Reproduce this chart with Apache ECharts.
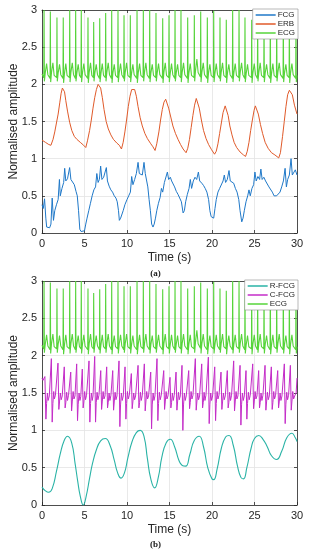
<!DOCTYPE html>
<html>
<head>
<meta charset="utf-8">
<script src="https://cdn.jsdelivr.net/npm/echarts@6/dist/echarts.min.js"></script>
<style>html,body{margin:0;padding:0;background:#fff;}#c{width:311px;height:550px;}</style>
</head>
<body>
<div id="c"></div>
<script>
// ---- data (time in s, normalised amplitude) ----
const ecgData = [
[0,2.14],
[0.21,2.09],[0.24,3.0],[0.28,2.04],[0.38,2.15],[0.54,2.28],[0.69,2.13],
[0.95,2.08],[0.98,2.98],[1.02,2.03],[1.12,2.16],[1.28,2.29],[1.43,2.12],
[1.73,2.09],[1.76,2.9],[1.8,2.04],[1.9,2.15],[2.06,2.27],[2.21,2.13],
[2.47,2.08],[2.5,2.9],[2.54,2.02],[2.64,2.14],[2.8,2.28],[2.95,2.12],
[3.23,2.09],[3.26,3.0],[3.3,2.03],[3.4,2.16],[3.56,2.29],[3.71,2.13],
[3.93,2.08],[3.96,3.0],[4.0,2.04],[4.1,2.15],[4.26,2.27],[4.41,2.12],
[4.59,2.09],[4.62,3.0],[4.66,2.03],[4.76,2.15],[4.92,2.28],[5.07,2.13],
[5.38,2.08],[5.41,2.9],[5.45,2.02],[5.55,2.16],[5.71,2.29],[5.86,2.12],
[6.05,2.09],[6.08,2.84],[6.12,2.04],[6.22,2.15],[6.38,2.27],[6.53,2.13],
[6.76,2.08],[6.79,2.89],[6.83,2.03],[6.93,2.14],[7.09,2.28],[7.24,2.12],
[7.46,2.09],[7.49,2.96],[7.53,2.04],[7.63,2.16],[7.79,2.29],[7.94,2.13],
[8.17,2.08],[8.2,3.0],[8.24,2.02],[8.34,2.15],[8.5,2.27],[8.65,2.12],
[8.91,2.09],[8.94,3.0],[8.98,2.03],[9.08,2.15],[9.24,2.28],[9.39,2.13],
[9.62,2.08],[9.65,2.93],[9.69,2.04],[9.79,2.16],[9.95,2.29],[10.1,2.12],
[10.36,2.09],[10.39,2.93],[10.43,2.03],[10.53,2.14],[10.69,2.27],[10.84,2.13],
[11.15,2.08],[11.18,3.0],[11.22,2.02],[11.32,2.15],[11.48,2.28],[11.63,2.12],
[11.89,2.09],[11.92,3.0],[11.96,2.04],[12.06,2.16],[12.22,2.29],[12.37,2.13],
[12.64,2.08],[12.67,3.0],[12.71,2.03],[12.81,2.15],[12.97,2.27],[13.12,2.12],
[13.38,2.09],[13.41,2.96],[13.45,2.04],[13.55,2.15],[13.71,2.28],[13.86,2.13],
[14.17,2.08],[14.2,2.89],[14.24,2.02],[14.34,2.16],[14.5,2.29],[14.65,2.12],
[14.91,2.09],[14.94,2.93],[14.98,2.03],[15.08,2.14],[15.24,2.28],[15.39,2.13],
[15.62,2.08],[15.65,3.0],[15.69,2.04],[15.79,2.15],[15.95,2.27],[16.1,2.12],
[16.32,2.09],[16.35,3.0],[16.39,2.03],[16.49,2.16],[16.65,2.29],[16.8,2.13],
[17.11,2.08],[17.14,2.9],[17.18,2.02],[17.28,2.15],[17.44,2.28],[17.59,2.12],
[17.89,2.09],[17.92,2.93],[17.96,2.04],[18.06,2.18],[18.22,2.34],[18.37,2.16],
[18.64,2.1],[18.67,2.98],[18.71,2.03],[18.81,2.16],[18.97,2.29],[19.12,2.13],
[19.42,2.08],[19.45,2.9],[19.49,2.02],[19.59,2.15],[19.75,2.27],[19.9,2.12],
[20.17,2.09],[20.2,2.99],[20.24,2.03],[20.34,2.14],[20.5,2.28],[20.65,2.13],
[20.91,2.08],[20.94,2.9],[20.98,2.04],[21.08,2.16],[21.24,2.29],[21.39,2.12],
[21.65,2.09],[21.68,2.87],[21.72,2.02],[21.82,2.15],[21.98,2.27],[22.13,2.13],
[22.4,2.08],[22.43,3.0],[22.47,2.03],[22.57,2.15],[22.73,2.28],[22.88,2.12],
[23.15,2.09],[23.18,3.0],[23.22,2.04],[23.32,2.16],[23.48,2.29],[23.63,2.13],
[23.85,2.08],[23.88,2.9],[23.92,2.03],[24.02,2.14],[24.18,2.27],[24.33,2.12],
[24.64,2.09],[24.67,2.87],[24.71,2.02],[24.81,2.15],[24.97,2.28],[25.12,2.13],
[25.34,2.08],[25.37,2.95],[25.41,2.04],[25.51,2.16],[25.67,2.29],[25.82,2.12],
[26.09,2.09],[26.12,2.9],[26.16,2.03],[26.26,2.15],[26.42,2.27],[26.57,2.13],
[26.83,2.08],[26.86,2.97],[26.9,2.02],[27.0,2.14],[27.16,2.28],[27.31,2.12],
[27.58,2.09],[27.61,2.92],[27.65,2.04],[27.75,2.16],[27.91,2.29],[28.06,2.13],
[28.36,2.08],[28.39,2.95],[28.43,2.03],[28.53,2.15],[28.69,2.27],[28.84,2.12],
[29.07,2.09],[29.1,2.9],[29.14,2.02],[29.24,2.15],[29.4,2.28],[29.55,2.13],
[29.85,2.08],[29.88,2.96],[29.92,2.03],[30,2.12]
];

const fcgData = [
[0,0.38],[0.15,0.33],[0.3,0.46],[0.45,0.2],[0.55,0.08],[0.7,0.06],[0.9,0.07],[1.05,0.12],[1.2,0.47],[1.35,0.17],
[1.5,0.3],[1.7,0.38],[1.9,0.45],[2.05,0.72],[2.15,0.5],[2.35,0.6],[2.55,0.68],[2.67,0.87],[2.8,0.7],[3.0,0.73],
[3.15,0.75],[3.25,0.88],[3.4,0.72],[3.6,0.73],[3.8,0.65],[4.0,0.56],[4.15,0.5],[4.3,0.3],[4.45,0.05],[4.6,0.02],
[4.8,0.01],[5.0,0.03],[5.15,0.12],[5.3,0.2],[5.5,0.3],[5.7,0.4],[5.9,0.5],[6.1,0.58],[6.3,0.62],[6.45,0.8],
[6.6,0.68],[6.75,0.72],[6.9,0.9],[7.05,0.72],[7.25,0.75],[7.4,0.73],[7.57,0.88],[7.7,0.7],[7.9,0.63],[8.1,0.58],
[8.3,0.55],[8.5,0.5],[8.7,0.47],[8.85,0.42],[9.0,0.3],[9.1,0.17],[9.25,0.2],[9.4,0.22],[9.55,0.3],[9.75,0.38],
[10.0,0.45],[10.2,0.5],[10.4,0.55],[10.55,0.76],[10.7,0.65],[10.9,0.72],[11.1,0.8],[11.3,0.95],[11.45,0.8],[11.6,0.82],
[11.8,0.78],[12.0,0.95],[12.15,0.8],[12.3,0.78],[12.45,0.62],[12.6,0.45],[12.75,0.3],[12.9,0.12],[13.06,0.08],[13.2,0.12],
[13.35,0.2],[13.5,0.3],[13.7,0.4],[13.9,0.48],[14.05,0.6],[14.2,0.55],[14.4,0.68],[14.55,0.7],[14.75,0.82],[14.9,0.72],
[15.1,0.75],[15.25,0.7],[15.45,0.72],[15.6,0.62],[15.8,0.56],[16.0,0.52],[16.2,0.5],[16.4,0.42],[16.6,0.27],[16.75,0.3],
[16.9,0.42],[17.1,0.52],[17.3,0.6],[17.45,0.72],[17.6,0.6],[17.8,0.7],[18.0,0.75],[18.2,0.72],[18.4,0.82],[18.55,0.7],
[18.8,0.67],[19.0,0.64],[19.2,0.6],[19.4,0.55],[19.6,0.45],[19.75,0.3],[19.9,0.22],[20.05,0.24],[20.2,0.2],[20.35,0.33],
[20.5,0.45],[20.7,0.55],[20.9,0.6],[21.1,0.62],[21.3,0.7],[21.45,0.78],[21.6,0.68],[21.8,0.72],[22.0,0.84],[22.15,0.7],
[22.35,0.68],[22.55,0.67],[22.75,0.6],[22.95,0.55],[23.15,0.45],[23.3,0.3],[23.5,0.15],[23.65,0.2],[23.8,0.3],[24.0,0.42],
[24.2,0.5],[24.35,0.58],[24.5,0.5],[24.7,0.6],[24.9,0.65],[25.05,0.82],[25.2,0.7],[25.4,0.76],[25.6,0.72],[25.75,0.86],
[25.9,0.72],[26.1,0.75],[26.3,0.7],[26.5,0.68],[26.7,0.62],[26.9,0.6],[27.1,0.55],[27.3,0.5],[27.45,0.48],[27.6,0.5],
[27.8,0.52],[28.0,0.55],[28.2,0.62],[28.4,0.7],[28.6,0.87],[28.75,0.62],[28.9,0.72],[29.1,0.78],[29.3,1.0],[29.45,0.78],
[29.6,0.8],[29.8,0.85],[30,0.78]
];

const erbData = [
[0,1.25],[0.4,1.22],[0.8,1.19],[1.05,1.18],[1.3,1.26],[1.5,1.36],[1.7,1.48],[1.9,1.6],[2.1,1.76],[2.25,1.88],
[2.4,1.95],[2.5,1.95],[2.65,1.9],[2.8,1.78],[3.0,1.64],[3.25,1.49],[3.5,1.38],[3.8,1.3],[4.1,1.26],[4.5,1.22],
[4.9,1.18],[5.15,1.15],[5.35,1.24],[5.6,1.38],[5.8,1.52],[6.0,1.68],[6.2,1.82],[6.4,1.93],[6.6,2.0],[6.75,2.0],
[6.9,1.95],[7.1,1.82],[7.3,1.66],[7.55,1.5],[7.8,1.4],[8.1,1.32],[8.4,1.26],[8.8,1.21],[9.1,1.18],[9.35,1.13],
[9.55,1.22],[9.75,1.36],[9.95,1.52],[10.15,1.7],[10.35,1.84],[10.55,1.93],[10.75,1.95],[10.9,1.93],[11.1,1.84],[11.3,1.7],
[11.55,1.55],[11.8,1.44],[12.1,1.34],[12.4,1.27],[12.8,1.2],[13.05,1.16],[13.3,1.11],[13.5,1.2],[13.75,1.36],[13.95,1.52],
[14.15,1.66],[14.35,1.76],[14.55,1.8],[14.7,1.78],[14.9,1.68],[15.15,1.56],[15.4,1.44],[15.7,1.34],[16.0,1.26],[16.3,1.19],
[16.6,1.13],[16.95,1.08],[17.15,1.14],[17.35,1.26],[17.55,1.42],[17.75,1.58],[17.95,1.72],[18.15,1.81],[18.3,1.79],[18.5,1.68],
[18.75,1.52],[19.0,1.38],[19.3,1.27],[19.6,1.19],[19.95,1.12],[20.3,1.06],[20.5,1.1],[20.7,1.2],[20.9,1.34],[21.1,1.48],
[21.3,1.62],[21.55,1.71],[21.7,1.69],[21.9,1.58],[22.1,1.44],[22.35,1.32],[22.6,1.22],[22.9,1.15],[23.3,1.09],[23.7,1.05],
[23.95,1.03],[24.15,1.1],[24.35,1.22],[24.55,1.38],[24.75,1.52],[24.95,1.65],[25.1,1.71],[25.25,1.7],[25.45,1.6],[25.7,1.46],
[25.95,1.34],[26.25,1.22],[26.6,1.14],[27.0,1.08],[27.4,1.05],[27.85,1.01],[28.05,1.08],[28.3,1.3],[28.5,1.5],[28.7,1.7],
[28.9,1.86],[29.1,1.92],[29.25,1.93],[29.45,1.86],[29.7,1.72],[30,1.6]
];

const rfcgData = [
[0,0.24],[0.4,0.19],[0.78,0.17],[1.2,0.22],[1.7,0.45],[2.16,0.69],[2.6,0.86],[3.0,0.92],[3.5,0.83],[3.9,0.55],
[4.2,0.32],[4.5,0.12],[4.85,0.0],[5.2,0.12],[5.6,0.36],[5.95,0.56],[6.4,0.74],[6.9,0.86],[7.45,0.89],[8.0,0.8],
[8.5,0.6],[8.9,0.43],[9.3,0.36],[9.7,0.43],[10.1,0.63],[10.6,0.85],[11.1,0.97],[11.55,1.0],[12.0,0.92],[12.4,0.62],
[12.8,0.35],[13.25,0.23],[13.7,0.38],[14.1,0.64],[14.6,0.83],[15.1,0.88],[15.6,0.78],[16.1,0.6],[16.5,0.53],[16.9,0.52],
[17.4,0.68],[17.9,0.86],[18.5,0.92],[19.0,0.78],[19.5,0.5],[20.0,0.35],[20.2,0.34],[20.6,0.48],[21.1,0.76],[21.6,0.91],
[22.0,0.93],[22.5,0.8],[23.0,0.52],[23.4,0.37],[23.7,0.35],[24.1,0.5],[24.6,0.76],[25.0,0.89],[25.5,0.93],[26.0,0.88],
[26.5,0.78],[27.0,0.66],[27.6,0.61],[28.2,0.72],[28.8,0.9],[29.4,0.96],[29.8,0.9],[30,0.85]
];

const cfcgData = [
[0,1.7],[0.12,1.67],[0.34,1.72],[0.46,1.15],[0.54,1.36],[0.64,1.5],[0.72,1.4],[0.86,1.46],
[1.1,1.96],[1.2,1.11],[1.28,1.36],[1.38,1.52],[1.45,1.42],[1.58,1.47],
[1.88,1.9],[1.98,1.28],[2.06,1.38],[2.16,1.5],[2.26,1.41],[2.38,1.46],
[2.62,1.85],[2.72,1.3],[2.8,1.37],[2.9,1.51],[3.0,1.4],[3.12,1.47],
[3.38,1.78],[3.48,1.26],[3.56,1.38],[3.66,1.52],[3.76,1.42],[3.88,1.46],
[4.08,1.89],[4.18,1.13],[4.26,1.35],[4.36,1.5],[4.46,1.4],[4.56,1.45],
[4.74,1.82],[4.84,1.3],[4.92,1.38],[5.02,1.52],[5.12,1.41],[5.24,1.47],
[5.53,1.93],[5.63,1.11],[5.71,1.36],[5.81,1.5],[5.91,1.4],[6.0,1.46],
[6.2,1.99],[6.3,1.11],[6.38,1.37],[6.48,1.51],[6.58,1.41],[6.7,1.47],
[6.91,1.8],[7.01,1.28],[7.09,1.38],[7.19,1.52],[7.29,1.42],[7.41,1.46],
[7.61,1.85],[7.71,1.3],[7.79,1.37],[7.89,1.5],[7.99,1.4],[8.11,1.47],
[8.32,1.8],[8.42,1.27],[8.5,1.38],[8.6,1.51],[8.7,1.41],[8.82,1.46],
[9.06,1.93],[9.16,1.05],[9.24,1.34],[9.34,1.5],[9.44,1.4],[9.56,1.46],
[9.77,1.85],[9.87,1.15],[9.95,1.36],[10.05,1.52],[10.15,1.42],[10.27,1.47],
[10.51,1.76],[10.61,1.29],[10.69,1.38],[10.79,1.5],[10.89,1.41],[11.01,1.46],
[11.3,1.87],[11.4,1.3],[11.48,1.37],[11.58,1.51],[11.68,1.4],[11.8,1.47],
[12.04,1.89],[12.14,1.26],[12.22,1.38],[12.32,1.52],[12.42,1.42],[12.54,1.46],
[12.79,1.78],[12.89,1.02],[12.97,1.34],[13.07,1.5],[13.17,1.4],[13.29,1.46],
[13.53,1.96],[13.63,1.13],[13.71,1.36],[13.81,1.51],[13.91,1.41],[14.03,1.47],
[14.32,1.8],[14.42,1.28],[14.5,1.38],[14.6,1.52],[14.7,1.42],[14.82,1.46],
[15.06,1.71],[15.16,1.3],[15.24,1.37],[15.34,1.5],[15.44,1.4],[15.56,1.47],
[15.77,1.78],[15.87,1.27],[15.95,1.38],[16.05,1.51],[16.15,1.41],[16.27,1.46],
[16.47,1.87],[16.57,1.0],[16.65,1.34],[16.75,1.5],[16.85,1.4],[16.97,1.46],
[17.26,1.8],[17.36,1.29],[17.44,1.37],[17.54,1.52],[17.64,1.42],[17.76,1.47],
[18.04,1.96],[18.14,1.27],[18.22,1.38],[18.32,1.5],[18.42,1.41],[18.54,1.46],
[18.79,1.89],[18.89,1.3],[18.97,1.37],[19.07,1.51],[19.17,1.4],[19.29,1.47],
[19.57,1.98],[19.67,1.09],[19.75,1.35],[19.85,1.5],[19.95,1.4],[20.07,1.46],
[20.32,1.85],[20.42,1.13],[20.5,1.36],[20.6,1.52],[20.7,1.42],[20.82,1.47],
[21.06,1.78],[21.16,1.28],[21.24,1.38],[21.34,1.5],[21.44,1.41],[21.56,1.46],
[21.8,1.8],[21.9,1.3],[21.98,1.37],[22.08,1.51],[22.18,1.4],[22.3,1.47],
[22.55,1.93],[22.65,1.26],[22.73,1.38],[22.83,1.52],[22.93,1.42],[23.05,1.46],
[23.3,1.87],[23.4,1.07],[23.48,1.35],[23.58,1.5],[23.68,1.4],[23.8,1.46],
[24.0,1.8],[24.1,1.15],[24.18,1.36],[24.28,1.51],[24.38,1.41],[24.5,1.47],
[24.79,1.89],[24.89,1.29],[24.97,1.38],[25.07,1.52],[25.17,1.42],[25.29,1.46],
[25.49,1.8],[25.59,1.3],[25.67,1.37],[25.77,1.5],[25.87,1.4],[25.99,1.47],
[26.24,1.87],[26.34,1.27],[26.42,1.38],[26.52,1.51],[26.62,1.41],[26.74,1.46],
[26.98,1.85],[27.08,1.28],[27.16,1.37],[27.26,1.52],[27.36,1.42],[27.48,1.47],
[27.73,1.8],[27.83,1.3],[27.91,1.38],[28.01,1.5],[28.11,1.4],[28.23,1.46],
[28.51,1.89],[28.61,1.09],[28.69,1.35],[28.79,1.51],[28.89,1.41],[29.01,1.47],
[29.22,1.87],[29.32,1.27],[29.4,1.38],[29.5,1.52],[29.6,1.42],[29.72,1.46],
[29.9,1.5],[30,1.7]
];

const legendA = ['FCG', 'ERB', 'ECG'];
const legendB = ['R-FCG', 'C-FCG', 'ECG'];
const yAxisTitle = 'Normalised amplitude';
const xAxisTitle = 'Time (s)';
const captions = ['(a)', '(b)'];

// ---- styling ----
const FONT = 'Liberation Sans, Arial, sans-serif';
const AX = '#262626';
const GRIDC = '#e3e3e3';
const colors = { FCG: '#1f78c8', ERB: '#e05a2a', ECG: '#56d43a', 'R-FCG': '#2ab3a6', 'C-FCG': '#c42cc8' };

const grids = [
  { left: 42, top: 10, width: 255, height: 223, containLabel: false, outerBoundsMode: 'none' },
  { left: 42, top: 281, width: 255, height: 224, containLabel: false, outerBoundsMode: 'none' }
];

function mainX(i) {
  return {
    type: 'value', gridIndex: i, min: 0, max: 30, interval: 5,
    name: xAxisTitle, nameLocation: 'middle', nameGap: 19, nameMoveOverlap: false,
    nameTextStyle: { fontFamily: FONT, fontSize: 12, color: AX },
    axisLine: { show: true, onZero: false, lineStyle: { color: AX, width: 0.8 } },
    axisTick: { show: true, inside: true, length: 3, lineStyle: { color: AX, width: 0.8 } },
    axisLabel: { fontFamily: FONT, fontSize: 11, color: AX, margin: 5 },
    splitLine: { show: true, lineStyle: { color: GRIDC, width: 0.8 } }
  };
}
function topX(i) {
  return {
    type: 'value', gridIndex: i, min: 0, max: 30, interval: 5, position: 'top',
    axisLine: { show: true, onZero: false, lineStyle: { color: AX, width: 0.8 } },
    axisTick: { show: true, inside: true, length: 3, lineStyle: { color: AX, width: 0.8 } },
    axisLabel: { show: false }, splitLine: { show: false }
  };
}
function mainY(i) {
  return {
    type: 'value', gridIndex: i, min: 0, max: 3, interval: 0.5,
    name: yAxisTitle, nameLocation: 'middle', nameGap: 22, nameRotate: 90, nameMoveOverlap: false,
    nameTextStyle: { fontFamily: FONT, fontSize: 12, color: AX },
    axisLine: { show: true, onZero: false, lineStyle: { color: AX, width: 0.8 } },
    axisTick: { show: true, inside: true, length: 3, lineStyle: { color: AX, width: 0.8 } },
    axisLabel: { fontFamily: FONT, fontSize: 11, color: AX, margin: 5 },
    splitLine: { show: true, lineStyle: { color: GRIDC, width: 0.8 } }
  };
}
function rightY(i) {
  return {
    type: 'value', gridIndex: i, min: 0, max: 3, interval: 0.5, position: 'right',
    axisLine: { show: true, onZero: false, lineStyle: { color: AX, width: 0.8 } },
    axisTick: { show: true, inside: true, length: 3, lineStyle: { color: AX, width: 0.8 } },
    axisLabel: { show: false }, splitLine: { show: false }
  };
}
function line(name, data, axisIdx, width, smooth) {
  return {
    type: 'line', name: name, data: data, xAxisIndex: axisIdx, yAxisIndex: axisIdx,
    showSymbol: false, symbol: 'none', smooth: smooth || false, animation: false,
    lineStyle: { color: colors[name], width: width || 1 },
    itemStyle: { color: colors[name] }, z: 3
  };
}
function legend(names, top) {
  return {
    data: names, orient: 'vertical', right: 13, top: top,
    icon: 'rect', itemWidth: 20, itemHeight: 1.5, itemGap: 1,
    textStyle: { fontFamily: FONT, fontSize: 8, color: AX, padding: [0, 0, 0, -3] },
    backgroundColor: '#ffffff', borderColor: '#8a8a8a', borderWidth: 0.6,
    padding: [2, 3, 2, 3], borderRadius: 0, selectedMode: false
  };
}

const chart = echarts.init(document.getElementById('c'), null, { renderer: 'canvas' });
chart.setOption({
  animation: false,
  backgroundColor: '#ffffff',
  grid: grids,
  xAxis: [mainX(0), mainX(1), topX(0), topX(1)],
  yAxis: [mainY(0), mainY(1), rightY(0), rightY(1)],
  legend: [legend(legendA, 9), legend(legendB, 280)],
  title: [
    { text: captions[0], left: 'center', top: 264, textStyle: { fontFamily: 'Liberation Serif, serif', fontSize: 9, fontWeight: 'bold', color: '#222' } },
    { text: captions[1], left: 'center', top: 535, textStyle: { fontFamily: 'Liberation Serif, serif', fontSize: 9, fontWeight: 'bold', color: '#222' } }
  ],
  series: [
    line('FCG', fcgData, 0, 1),
    line('ERB', erbData, 0, 1),
    line('ECG', ecgData, 0, 1.1),
    line('R-FCG', rfcgData, 1, 1.1, 0.5),
    line('C-FCG', cfcgData, 1, 1),
    line('ECG', ecgData, 1, 1.1)
  ]
});
</script>
</body>
</html>
